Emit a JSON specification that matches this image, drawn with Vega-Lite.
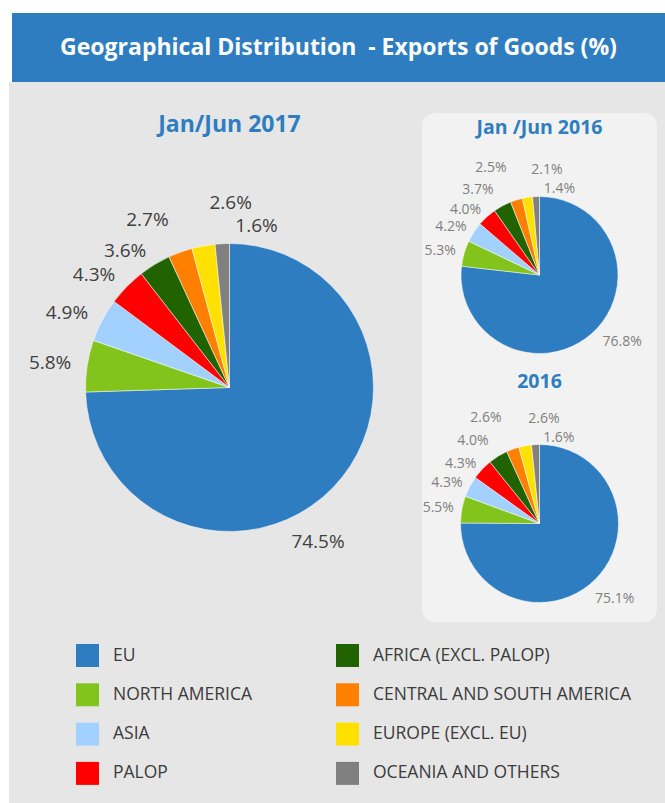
{
  "$schema": "https://vega.github.io/schema/vega-lite/v6.json",
  "background": "#e6e6e6",
  "padding": 0,
  "autosize": {"type": "pad"},
  "config": {"view": {"stroke": null}, "font": "Open Sans", "text": {"font": "Open Sans"}},
  "datasets": {
    "exports": [
      {"period": "Jan/Jun 2017", "region": "EU", "share": 0.745},
      {"period": "Jan/Jun 2017", "region": "NORTH AMERICA", "share": 0.058},
      {"period": "Jan/Jun 2017", "region": "ASIA", "share": 0.049},
      {"period": "Jan/Jun 2017", "region": "PALOP", "share": 0.043},
      {"period": "Jan/Jun 2017", "region": "AFRICA (EXCL. PALOP)", "share": 0.036},
      {"period": "Jan/Jun 2017", "region": "CENTRAL AND SOUTH AMERICA", "share": 0.027},
      {"period": "Jan/Jun 2017", "region": "EUROPE (EXCL. EU)", "share": 0.026},
      {"period": "Jan/Jun 2017", "region": "OCEANIA AND OTHERS", "share": 0.016},
      {"period": "Jan/Jun 2016", "region": "EU", "share": 0.768},
      {"period": "Jan/Jun 2016", "region": "NORTH AMERICA", "share": 0.053},
      {"period": "Jan/Jun 2016", "region": "ASIA", "share": 0.042},
      {"period": "Jan/Jun 2016", "region": "PALOP", "share": 0.040},
      {"period": "Jan/Jun 2016", "region": "AFRICA (EXCL. PALOP)", "share": 0.037},
      {"period": "Jan/Jun 2016", "region": "CENTRAL AND SOUTH AMERICA", "share": 0.025},
      {"period": "Jan/Jun 2016", "region": "EUROPE (EXCL. EU)", "share": 0.021},
      {"period": "Jan/Jun 2016", "region": "OCEANIA AND OTHERS", "share": 0.014},
      {"period": "2016", "region": "EU", "share": 0.751},
      {"period": "2016", "region": "NORTH AMERICA", "share": 0.055},
      {"period": "2016", "region": "ASIA", "share": 0.043},
      {"period": "2016", "region": "PALOP", "share": 0.043},
      {"period": "2016", "region": "AFRICA (EXCL. PALOP)", "share": 0.040},
      {"period": "2016", "region": "CENTRAL AND SOUTH AMERICA", "share": 0.026},
      {"period": "2016", "region": "EUROPE (EXCL. EU)", "share": 0.026},
      {"period": "2016", "region": "OCEANIA AND OTHERS", "share": 0.016}
    ]
  },
  "spacing": 0,
  "vconcat": [
    {"width": 665, "height": 13, "view": {"fill": "#ffffff"}, "data": {"values": [{}]}, "mark": {"type": "text", "text": ""}},
    {
      "spacing": 0, "bounds": "flush",
      "hconcat": [
        {"width": 12, "height": 69, "view": {"fill": "#ffffff"}, "data": {"values": [{}]}, "mark": {"type": "text", "text": ""}},
        {"width": 653, "height": 69, "view": {"fill": "#2e7dc1"}, "data": {"values": [{}]},
         "mark": {"type": "text", "text": "Geographical Distribution \u00a0- Exports of Goods (%)", "color": "#ffffff", "fontSize": 23, "fontWeight": "bold", "align": "center", "baseline": "middle"}}
      ]
    },
    {
      "spacing": 0,
      "hconcat": [
        {"width": 9, "height": 721, "view": {"fill": "#ffffff"}, "data": {"values": [{}]}, "mark": {"type": "text", "text": ""}},
        {
          "spacing": 0, "bounds": "flush",
          "hconcat": [
            {"width": 28, "height": 721, "data": {"values": [{}]}, "mark": {"type": "text", "text": ""}},
            {
              "width": 385, "height": 611,
              "layer": [
                {"data": {"name": "exports"}, "transform": [{"filter": {"field": "period", "equal": "Jan/Jun 2017"}}],
                 "mark": {"type": "arc", "outerRadius": 144, "stroke": "#ffffff", "strokeWidth": 0.5},
                 "encoding": {
                   "theta": {"field": "share", "type": "quantitative", "stack": true},
                   "order": {"field": "share", "type": "quantitative", "sort": "descending"},
                   "color": {"field": "region", "type": "nominal",
                     "scale": {"domain": ["EU", "NORTH AMERICA", "ASIA", "PALOP", "AFRICA (EXCL. PALOP)", "CENTRAL AND SOUTH AMERICA", "EUROPE (EXCL. EU)", "OCEANIA AND OTHERS"],
                               "range": ["#2e7dc1", "#82c31c", "#a3d1ff", "#ff0000", "#216300", "#ff8000", "#ffe100", "#808080"]},
                     "legend": {"title": null, "orient": "none", "legendX": 76, "legendY": 644, "columns": 2, "columnPadding": 84, "rowPadding": 16.3, "padding": 0,
                                "symbolType": "square", "symbolSize": 529, "symbolStrokeWidth": 0, "symbolOpacity": 1,
                                "labelFont": "Open Sans", "labelFontSize": 17.5, "labelColor": "#3b3b3b", "labelOffset": 14, "labelLimit": 400}}}},
                {"data": {"name": "exports"}, "transform": [{"filter": {"field": "period", "equal": "Jan/Jun 2017"}}],
                 "mark": {"type": "text", "radius": 160, "align": "right", "baseline": "middle", "fontSize": 19, "color": "#404040"},
                 "encoding": {
                   "theta": {"field": "share", "type": "quantitative", "stack": true},
                   "order": {"field": "share", "type": "quantitative", "sort": "descending"},
                   "detail": {"field": "region", "type": "nominal"},
                   "text": {"condition": {"test": "indexof(['NORTH AMERICA','ASIA','PALOP','AFRICA (EXCL. PALOP)'], datum.region) >= 0", "field": "share", "type": "quantitative", "format": ".1%"}, "value": ""}}},
                {"data": {"name": "exports"}, "transform": [{"filter": {"field": "period", "equal": "Jan/Jun 2017"}}],
                 "mark": {"type": "text", "radius": 178, "align": "right", "baseline": "middle", "fontSize": 19, "color": "#404040"},
                 "encoding": {
                   "theta": {"field": "share", "type": "quantitative", "stack": true},
                   "order": {"field": "share", "type": "quantitative", "sort": "descending"},
                   "detail": {"field": "region", "type": "nominal"},
                   "text": {"condition": {"test": "datum.region == 'CENTRAL AND SOUTH AMERICA'", "field": "share", "type": "quantitative", "format": ".1%"}, "value": ""}}},
                {"data": {"name": "exports"}, "transform": [{"filter": {"field": "period", "equal": "Jan/Jun 2017"}}],
                 "mark": {"type": "text", "radius": 188, "dx": 14, "align": "left", "baseline": "middle", "fontSize": 19, "color": "#404040"},
                 "encoding": {
                   "theta": {"field": "share", "type": "quantitative", "stack": true},
                   "order": {"field": "share", "type": "quantitative", "sort": "descending"},
                   "detail": {"field": "region", "type": "nominal"},
                   "text": {"condition": {"test": "datum.region == 'EUROPE (EXCL. EU)'", "field": "share", "type": "quantitative", "format": ".1%"}, "value": ""}}},
                {"data": {"name": "exports"}, "transform": [{"filter": {"field": "period", "equal": "Jan/Jun 2017"}}],
                 "mark": {"type": "text", "radius": 162, "dx": 14, "align": "left", "baseline": "middle", "fontSize": 19, "color": "#404040"},
                 "encoding": {
                   "theta": {"field": "share", "type": "quantitative", "stack": true},
                   "order": {"field": "share", "type": "quantitative", "sort": "descending"},
                   "detail": {"field": "region", "type": "nominal"},
                   "text": {"condition": {"test": "datum.region == 'OCEANIA AND OTHERS'", "field": "share", "type": "quantitative", "format": ".1%"}, "value": ""}}},
                {"data": {"name": "exports"}, "transform": [{"filter": {"field": "period", "equal": "Jan/Jun 2017"}}],
                 "mark": {"type": "text", "radius": 172, "dx": -35, "dy": 35, "align": "center", "baseline": "middle", "fontSize": 19, "color": "#404040"},
                 "encoding": {
                   "theta": {"field": "share", "type": "quantitative", "stack": true},
                   "order": {"field": "share", "type": "quantitative", "sort": "descending"},
                   "detail": {"field": "region", "type": "nominal"},
                   "text": {"condition": {"test": "datum.region == 'EU'", "field": "share", "type": "quantitative", "format": ".1%"}, "value": ""}}},
                {"data": {"values": [{}]},
                 "mark": {"type": "text", "text": "Jan/Jun 2017", "dy": -262.5, "color": "#2e7dc1", "fontSize": 23, "fontWeight": "bold", "align": "center", "baseline": "middle"}}
              ]
            }
          ]
        },
        {
          "spacing": 0, "bounds": "flush",
          "vconcat": [
            {"width": 243, "height": 31, "data": {"values": [{}]}, "mark": {"type": "text", "text": ""}},
            {
              "width": 235, "height": 509, "view": {"fill": "#f2f2f2", "cornerRadius": 13},
              "layer": [
                {"data": {"name": "exports"}, "transform": [{"filter": {"field": "period", "equal": "Jan/Jun 2016"}}],
                 "mark": {"type": "arc", "outerRadius": 78.5, "stroke": "#ffffff", "strokeWidth": 0.5},
                 "encoding": {
                   "theta": {"field": "share", "type": "quantitative", "stack": true},
                   "order": {"field": "share", "type": "quantitative", "sort": "descending"},
                   "y": {"field": "period", "type": "nominal", "axis": null, "scale": {"type": "point", "domain": ["Jan/Jun 2016", "2016"], "padding": 0.5242, "align": 0.6219}},
                   "color": {"field": "region", "type": "nominal",
                     "scale": {"domain": ["EU", "NORTH AMERICA", "ASIA", "PALOP", "AFRICA (EXCL. PALOP)", "CENTRAL AND SOUTH AMERICA", "EUROPE (EXCL. EU)", "OCEANIA AND OTHERS"],
                               "range": ["#2e7dc1", "#82c31c", "#a3d1ff", "#ff0000", "#216300", "#ff8000", "#ffe100", "#808080"]},
                     "legend": {"title": null, "orient": "none", "legendX": 76, "legendY": 644, "columns": 2, "columnPadding": 84, "rowPadding": 16.3, "padding": 0,
                                "symbolType": "square", "symbolSize": 529, "symbolStrokeWidth": 0, "symbolOpacity": 1,
                                "labelFont": "Open Sans", "labelFontSize": 17.5, "labelColor": "#3b3b3b", "labelOffset": 14, "labelLimit": 400}}}},
                {"data": {"name": "exports"}, "transform": [{"filter": {"field": "period", "equal": "Jan/Jun 2016"}}],
                 "mark": {"type": "text", "radius": 87, "align": "right", "baseline": "middle", "fontSize": 14, "color": "#808080"},
                 "encoding": {
                   "theta": {"field": "share", "type": "quantitative", "stack": true},
                   "order": {"field": "share", "type": "quantitative", "sort": "descending"},
                   "detail": {"field": "region", "type": "nominal"},
                   "y": {"field": "period", "type": "nominal", "axis": null, "scale": {"type": "point", "domain": ["Jan/Jun 2016", "2016"], "padding": 0.5242, "align": 0.6219}},
                   "text": {"condition": {"test": "indexof(['NORTH AMERICA','ASIA','PALOP'], datum.region) >= 0", "field": "share", "type": "quantitative", "format": ".1%"}, "value": ""}}},
                {"data": {"name": "exports"}, "transform": [{"filter": {"field": "period", "equal": "Jan/Jun 2016"}}],
                 "mark": {"type": "text", "radius": 97, "align": "right", "baseline": "middle", "fontSize": 14, "color": "#808080"},
                 "encoding": {
                   "theta": {"field": "share", "type": "quantitative", "stack": true},
                   "order": {"field": "share", "type": "quantitative", "sort": "descending"},
                   "detail": {"field": "region", "type": "nominal"},
                   "y": {"field": "period", "type": "nominal", "axis": null, "scale": {"type": "point", "domain": ["Jan/Jun 2016", "2016"], "padding": 0.5242, "align": 0.6219}},
                   "text": {"condition": {"test": "datum.region == 'AFRICA (EXCL. PALOP)'", "field": "share", "type": "quantitative", "format": ".1%"}, "value": ""}}},
                {"data": {"name": "exports"}, "transform": [{"filter": {"field": "period", "equal": "Jan/Jun 2016"}}],
                 "mark": {"type": "text", "radius": 112, "align": "right", "baseline": "middle", "fontSize": 14, "color": "#808080"},
                 "encoding": {
                   "theta": {"field": "share", "type": "quantitative", "stack": true},
                   "order": {"field": "share", "type": "quantitative", "sort": "descending"},
                   "detail": {"field": "region", "type": "nominal"},
                   "y": {"field": "period", "type": "nominal", "axis": null, "scale": {"type": "point", "domain": ["Jan/Jun 2016", "2016"], "padding": 0.5242, "align": 0.6219}},
                   "text": {"condition": {"test": "datum.region == 'CENTRAL AND SOUTH AMERICA'", "field": "share", "type": "quantitative", "format": ".1%"}, "value": ""}}},
                {"data": {"name": "exports"}, "transform": [{"filter": {"field": "period", "equal": "Jan/Jun 2016"}}],
                 "mark": {"type": "text", "radius": 106, "dx": 8, "align": "left", "baseline": "middle", "fontSize": 14, "color": "#808080"},
                 "encoding": {
                   "theta": {"field": "share", "type": "quantitative", "stack": true},
                   "order": {"field": "share", "type": "quantitative", "sort": "descending"},
                   "detail": {"field": "region", "type": "nominal"},
                   "y": {"field": "period", "type": "nominal", "axis": null, "scale": {"type": "point", "domain": ["Jan/Jun 2016", "2016"], "padding": 0.5242, "align": 0.6219}},
                   "text": {"condition": {"test": "datum.region == 'EUROPE (EXCL. EU)'", "field": "share", "type": "quantitative", "format": ".1%"}, "value": ""}}},
                {"data": {"name": "exports"}, "transform": [{"filter": {"field": "period", "equal": "Jan/Jun 2016"}}],
                 "mark": {"type": "text", "radius": 86, "dx": 8, "align": "left", "baseline": "middle", "fontSize": 14, "color": "#808080"},
                 "encoding": {
                   "theta": {"field": "share", "type": "quantitative", "stack": true},
                   "order": {"field": "share", "type": "quantitative", "sort": "descending"},
                   "detail": {"field": "region", "type": "nominal"},
                   "y": {"field": "period", "type": "nominal", "axis": null, "scale": {"type": "point", "domain": ["Jan/Jun 2016", "2016"], "padding": 0.5242, "align": 0.6219}},
                   "text": {"condition": {"test": "datum.region == 'OCEANIA AND OTHERS'", "field": "share", "type": "quantitative", "format": ".1%"}, "value": ""}}},
                {"data": {"name": "exports"}, "transform": [{"filter": {"field": "period", "equal": "Jan/Jun 2016"}}],
                 "mark": {"type": "text", "radius": 103, "dx": 14, "dy": -10, "align": "center", "baseline": "middle", "fontSize": 14, "color": "#808080"},
                 "encoding": {
                   "theta": {"field": "share", "type": "quantitative", "stack": true},
                   "order": {"field": "share", "type": "quantitative", "sort": "descending"},
                   "detail": {"field": "region", "type": "nominal"},
                   "y": {"field": "period", "type": "nominal", "axis": null, "scale": {"type": "point", "domain": ["Jan/Jun 2016", "2016"], "padding": 0.5242, "align": 0.6219}},
                   "text": {"condition": {"test": "datum.region == 'EU'", "field": "share", "type": "quantitative", "format": ".1%"}, "value": ""}}},
                {"data": {"name": "exports"}, "transform": [{"filter": {"field": "period", "equal": "2016"}}],
                 "mark": {"type": "arc", "outerRadius": 79, "stroke": "#ffffff", "strokeWidth": 0.5},
                 "encoding": {
                   "theta": {"field": "share", "type": "quantitative", "stack": true},
                   "order": {"field": "share", "type": "quantitative", "sort": "descending"},
                   "y": {"field": "period", "type": "nominal", "axis": null, "scale": {"type": "point", "domain": ["Jan/Jun 2016", "2016"], "padding": 0.5242, "align": 0.6219}},
                   "color": {"field": "region", "type": "nominal",
                     "scale": {"domain": ["EU", "NORTH AMERICA", "ASIA", "PALOP", "AFRICA (EXCL. PALOP)", "CENTRAL AND SOUTH AMERICA", "EUROPE (EXCL. EU)", "OCEANIA AND OTHERS"],
                               "range": ["#2e7dc1", "#82c31c", "#a3d1ff", "#ff0000", "#216300", "#ff8000", "#ffe100", "#808080"]},
                     "legend": {"title": null, "orient": "none", "legendX": 76, "legendY": 644, "columns": 2, "columnPadding": 84, "rowPadding": 16.3, "padding": 0,
                                "symbolType": "square", "symbolSize": 529, "symbolStrokeWidth": 0, "symbolOpacity": 1,
                                "labelFont": "Open Sans", "labelFontSize": 17.5, "labelColor": "#3b3b3b", "labelOffset": 14, "labelLimit": 400}}}},
                {"data": {"name": "exports"}, "transform": [{"filter": {"field": "period", "equal": "2016"}}],
                 "mark": {"type": "text", "radius": 87, "align": "right", "baseline": "middle", "fontSize": 14, "color": "#808080"},
                 "encoding": {
                   "theta": {"field": "share", "type": "quantitative", "stack": true},
                   "order": {"field": "share", "type": "quantitative", "sort": "descending"},
                   "detail": {"field": "region", "type": "nominal"},
                   "y": {"field": "period", "type": "nominal", "axis": null, "scale": {"type": "point", "domain": ["Jan/Jun 2016", "2016"], "padding": 0.5242, "align": 0.6219}},
                   "text": {"condition": {"test": "indexof(['NORTH AMERICA','ASIA','PALOP'], datum.region) >= 0", "field": "share", "type": "quantitative", "format": ".1%"}, "value": ""}}},
                {"data": {"name": "exports"}, "transform": [{"filter": {"field": "period", "equal": "2016"}}],
                 "mark": {"type": "text", "radius": 97, "align": "right", "baseline": "middle", "fontSize": 14, "color": "#808080"},
                 "encoding": {
                   "theta": {"field": "share", "type": "quantitative", "stack": true},
                   "order": {"field": "share", "type": "quantitative", "sort": "descending"},
                   "detail": {"field": "region", "type": "nominal"},
                   "y": {"field": "period", "type": "nominal", "axis": null, "scale": {"type": "point", "domain": ["Jan/Jun 2016", "2016"], "padding": 0.5242, "align": 0.6219}},
                   "text": {"condition": {"test": "datum.region == 'AFRICA (EXCL. PALOP)'", "field": "share", "type": "quantitative", "format": ".1%"}, "value": ""}}},
                {"data": {"name": "exports"}, "transform": [{"filter": {"field": "period", "equal": "2016"}}],
                 "mark": {"type": "text", "radius": 112, "align": "right", "baseline": "middle", "fontSize": 14, "color": "#808080"},
                 "encoding": {
                   "theta": {"field": "share", "type": "quantitative", "stack": true},
                   "order": {"field": "share", "type": "quantitative", "sort": "descending"},
                   "detail": {"field": "region", "type": "nominal"},
                   "y": {"field": "period", "type": "nominal", "axis": null, "scale": {"type": "point", "domain": ["Jan/Jun 2016", "2016"], "padding": 0.5242, "align": 0.6219}},
                   "text": {"condition": {"test": "datum.region == 'CENTRAL AND SOUTH AMERICA'", "field": "share", "type": "quantitative", "format": ".1%"}, "value": ""}}},
                {"data": {"name": "exports"}, "transform": [{"filter": {"field": "period", "equal": "2016"}}],
                 "mark": {"type": "text", "radius": 106, "dx": 8, "align": "left", "baseline": "middle", "fontSize": 14, "color": "#808080"},
                 "encoding": {
                   "theta": {"field": "share", "type": "quantitative", "stack": true},
                   "order": {"field": "share", "type": "quantitative", "sort": "descending"},
                   "detail": {"field": "region", "type": "nominal"},
                   "y": {"field": "period", "type": "nominal", "axis": null, "scale": {"type": "point", "domain": ["Jan/Jun 2016", "2016"], "padding": 0.5242, "align": 0.6219}},
                   "text": {"condition": {"test": "datum.region == 'EUROPE (EXCL. EU)'", "field": "share", "type": "quantitative", "format": ".1%"}, "value": ""}}},
                {"data": {"name": "exports"}, "transform": [{"filter": {"field": "period", "equal": "2016"}}],
                 "mark": {"type": "text", "radius": 86, "dx": 8, "align": "left", "baseline": "middle", "fontSize": 14, "color": "#808080"},
                 "encoding": {
                   "theta": {"field": "share", "type": "quantitative", "stack": true},
                   "order": {"field": "share", "type": "quantitative", "sort": "descending"},
                   "detail": {"field": "region", "type": "nominal"},
                   "y": {"field": "period", "type": "nominal", "axis": null, "scale": {"type": "point", "domain": ["Jan/Jun 2016", "2016"], "padding": 0.5242, "align": 0.6219}},
                   "text": {"condition": {"test": "datum.region == 'OCEANIA AND OTHERS'", "field": "share", "type": "quantitative", "format": ".1%"}, "value": ""}}},
                {"data": {"name": "exports"}, "transform": [{"filter": {"field": "period", "equal": "2016"}}],
                 "mark": {"type": "text", "radius": 101, "dx": 4, "dy": 4, "align": "center", "baseline": "middle", "fontSize": 14, "color": "#808080"},
                 "encoding": {
                   "theta": {"field": "share", "type": "quantitative", "stack": true},
                   "order": {"field": "share", "type": "quantitative", "sort": "descending"},
                   "detail": {"field": "region", "type": "nominal"},
                   "y": {"field": "period", "type": "nominal", "axis": null, "scale": {"type": "point", "domain": ["Jan/Jun 2016", "2016"], "padding": 0.5242, "align": 0.6219}},
                   "text": {"condition": {"test": "datum.region == 'EU'", "field": "share", "type": "quantitative", "format": ".1%"}, "value": ""}}},
                {"data": {"values": [{"period": "Jan/Jun 2016"}]},
                 "mark": {"type": "text", "text": "Jan /Jun 2016", "dy": -147, "color": "#2e7dc1", "fontSize": 19.5, "fontWeight": "bold", "align": "center", "baseline": "middle"},
                 "encoding": {"y": {"field": "period", "type": "nominal", "axis": null, "scale": {"type": "point", "domain": ["Jan/Jun 2016", "2016"], "padding": 0.5242, "align": 0.6219}}}},
                {"data": {"values": [{"period": "2016"}]},
                 "mark": {"type": "text", "text": "2016", "dy": -141.5, "color": "#2e7dc1", "fontSize": 19.5, "fontWeight": "bold", "align": "center", "baseline": "middle"},
                 "encoding": {"y": {"field": "period", "type": "nominal", "axis": null, "scale": {"type": "point", "domain": ["Jan/Jun 2016", "2016"], "padding": 0.5242, "align": 0.6219}}}}
              ]
            }
          ]
        }
      ]
    }
  ]
}
